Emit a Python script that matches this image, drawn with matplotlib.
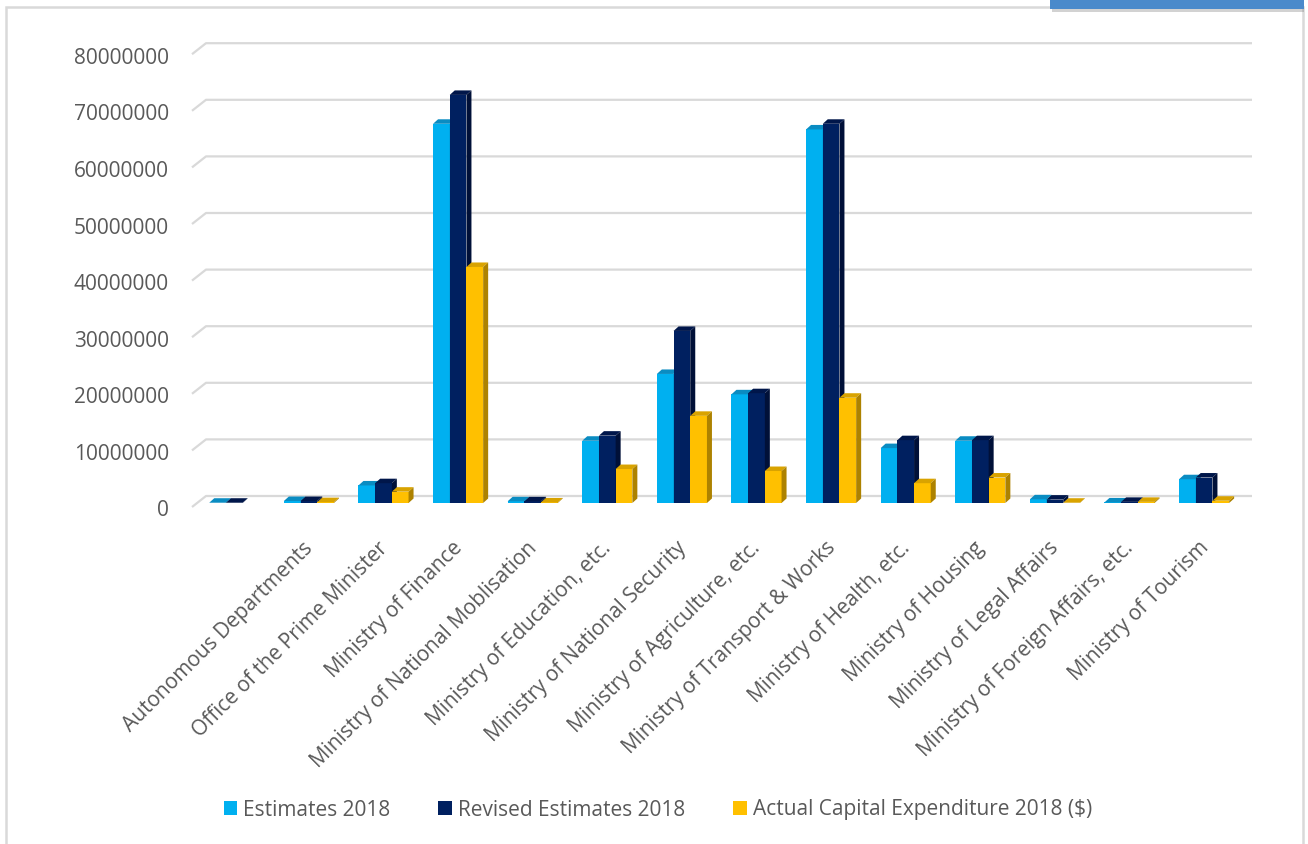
import matplotlib
matplotlib.use("Agg")
import matplotlib.pyplot as plt
from matplotlib.patches import Rectangle, Polygon
import numpy as np

# ---------------- data ----------------
categories = ["", "Autonomous Departments", "Office of the Prime Minister", "Ministry of Finance",
              "Ministry of National Moblisation", "Ministry of Education, etc.",
              "Ministry of National Security", "Ministry of Agriculture, etc.",
              "Ministry of Transport & Works", "Ministry of Health, etc.", "Ministry of Housing",
              "Ministry of Legal Affairs", "Ministry of Foreign Affairs, etc.", "Ministry of Tourism"]
estimates = [50000, 350000, 3100000, 67000000, 300000, 11000000, 22800000, 19200000,
             66000000, 9700000, 11000000, 650000, 100000, 4200000]
revised = [50000, 350000, 3500000, 72100000, 300000, 11900000, 30400000, 19400000,
           67000000, 11100000, 11100000, 600000, 200000, 4500000]
actual = [0, 150000, 2000000, 41700000, 100000, 6000000, 15400000, 5650000,
          18600000, 3500000, 4500000, 50000, 200000, 400000]
series_names = ["Estimates 2018", "Revised Estimates 2018", "Actual Capital Expenditure 2018 ($)"]
yticks = [0, 10000000, 20000000, 30000000, 40000000, 50000000, 60000000, 70000000, 80000000]

front_colors = ["#00B0F0", "#002060", "#FFC000"]
top_colors = ["#0A8CC2", "#00164A", "#D9A300"]
side_colors = ["#0088BB", "#001038", "#AD8200"]

W, H = 1308, 844
fig = plt.figure(figsize=(W / 100, H / 100), dpi=100)
fig.patch.set_facecolor("white")

# axes in the "bar plane"
ax_left, ax_right = 197, 1241.4
ax_bottom_px, ax_top_px = 503, 50.2
ax = fig.add_axes([ax_left / W, 1 - ax_bottom_px / H, (ax_right - ax_left) / W,
                   (ax_bottom_px - ax_top_px) / H])
ax.set_xlim(-0.5, len(categories) - 0.5)
ax.set_ylim(0, 80000000)
ax.axis("off")

pxx = (len(categories)) / (ax_right - ax_left)      # data units per pixel, x
pxy = 80000000 / (ax_bottom_px - ax_top_px)          # data units per pixel, y

grid_c = "#D9D9D9"
x0 = -0.5
x1 = len(categories) - 0.5
for v in yticks:
    xs = [x0 - 5 * pxx, x0 + 9 * pxx, x1 + 10.6 * pxx]
    ys = [v - 4 * pxy, v + 7 * pxy, v + 7 * pxy]
    ax.plot(xs, ys, color=grid_c, lw=1.6, zorder=1, clip_on=False, solid_capstyle="butt")
    ax.text(x0 - 28 * pxx, v - 8 * pxy, f"{v:d}", ha="right", va="center",
            fontsize=15, color="#595959", family="Open Sans")

# bars
bw = 16.7 * pxx
ddx, ddy = 5 * pxx, 4.5 * pxy
xpos = np.arange(len(categories))
handles = []
for k, vals in enumerate([estimates, revised, actual]):
    xs = xpos + (k - 1) * bw
    bars = ax.bar(xs, vals, width=bw, color=front_colors[k], zorder=10 + 3 * k,
                  linewidth=0, label=series_names[k])
    handles.append(bars)
    for rect, h in zip(bars, vals):
        if h <= 0:
            continue
        a = rect.get_x()
        b = a + rect.get_width()
        top = Polygon([(a, h), (b, h), (b + ddx, h + ddy), (a + ddx, h + ddy)], closed=True,
                      facecolor=top_colors[k], edgecolor="none", zorder=10 + 3 * k + 1, clip_on=False)
        side = Polygon([(b, 0), (b + ddx, ddy), (b + ddx, h + ddy), (b, h)], closed=True,
                       facecolor=side_colors[k], edgecolor="none", zorder=10 + 3 * k + 1, clip_on=False)
        ax.add_patch(top)
        ax.add_patch(side)

# category labels
for i, lab in enumerate(categories):
    if not lab:
        continue
    ax.text(i + 1 * pxx, -42 * pxy, lab, rotation=45, ha="right", va="center",
            rotation_mode="anchor", fontsize=15, color="#595959", family="Open Sans")

# legend
leg = fig.legend(handles=handles, labels=series_names, loc="center",
                 bbox_to_anchor=(658 / W, 1 - 810 / H), ncol=3, frameon=False,
                 prop={"family": "Open Sans", "size": 15}, handlelength=0.65, handleheight=0.65,
                 handletextpad=0.3, columnspacing=2.3)
for t in leg.get_texts():
    t.set_color("#595959")

# chart border
fig.add_artist(Rectangle((6 / W, -0.05), (1303 - 6) / W, 1.05 - 7 / H + 0.0, transform=fig.transFigure,
                         facecolor="none", edgecolor="#D9D9D9", lw=1.8, zorder=0))
# top-right blue tab with shadow
fig.add_artist(Rectangle((1052 / W, 1 - 12 / H), (1304 - 1052) / W, 12 / H, transform=fig.transFigure,
                         facecolor="#808080", edgecolor="none", alpha=0.35, zorder=5))
fig.add_artist(Rectangle((1050 / W, 1 - 9 / H), (1304 - 1050) / W, 9 / H + 0.01, transform=fig.transFigure,
                         facecolor="#4A8ACB", edgecolor="none", zorder=6))

fig.savefig("out.png", dpi=100, facecolor="white")
